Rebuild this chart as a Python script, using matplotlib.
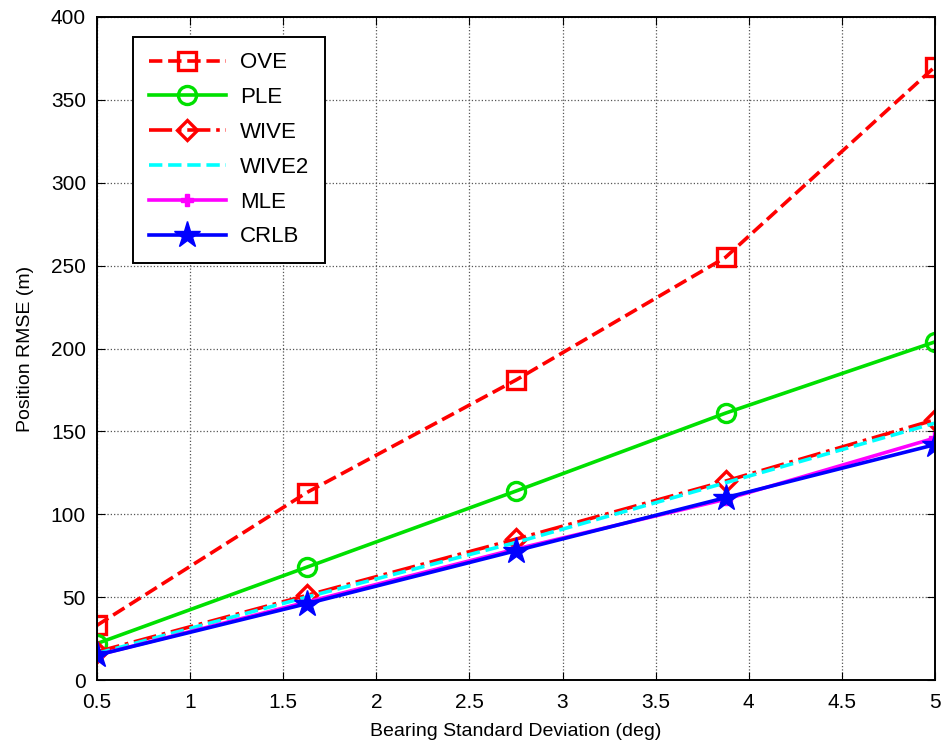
import numpy as np
import matplotlib.pyplot as plt

plt.rcParams['font.family'] = ['Liberation Sans', 'DejaVu Sans']

# bearing noise levels (deg)
sigma = [0.5, 1.625, 2.75, 3.875, 5.0]

ove = [33, 113, 181, 255, 370]
ple = [22, 68, 114, 161, 204]
wive = [17, 51, 85, 120, 157]
wive2 = [16, 50, 83, 119, 155]
mle = [15, 47, 79, 109, 146]
crlb = [15, 46, 78, 110, 142]

fig = plt.figure(figsize=(9.43, 7.53), dpi=100)
ax = fig.add_axes([97/943, 1 - 680/753, (935 - 97)/943, (680 - 17)/753])

lw = 2.6
ax.plot(sigma, ove, 'r--s', lw=lw, ms=13, mfc='none', mew=2.4, label='OVE')
ax.plot(sigma, ple, '-o', color='#00e000', lw=lw, ms=13, mfc='none', mew=2.4, label='PLE')
ax.plot(sigma, wive, 'r-.D', lw=lw, ms=10, mfc='none', mew=2.4, label='WIVE')
ax.plot(sigma, wive2, '--', color='cyan', lw=lw, label='WIVE2')
ax.plot(sigma, mle, '-P', color='magenta', lw=lw, ms=9, label='MLE')
ax.plot(sigma, crlb, 'b-*', lw=lw, ms=20, label='CRLB')

ax.set_xlim(0.5, 5)
ax.set_ylim(0, 400)
ax.set_xticks(np.arange(0.5, 5.01, 0.5))
ax.set_xticklabels(['0.5', '1', '1.5', '2', '2.5', '3', '3.5', '4', '4.5', '5'])
ax.set_yticks(np.arange(0, 401, 50))
ax.tick_params(direction='in', labelsize=15, length=6, top=True, right=True)
ax.tick_params(axis='x', pad=9)
ax.tick_params(axis='y', pad=8)
ax.grid(True, color='#555555', linestyle=':', lw=0.9)
for s in ax.spines.values():
    s.set_linewidth(1.4)

ax.set_xlabel('Bearing Standard Deviation (deg)', fontsize=14, labelpad=8)
ax.set_ylabel('Position RMSE (m)', fontsize=14, labelpad=12)

leg = ax.legend(loc='upper left', bbox_to_anchor=(0.043, 0.970), borderaxespad=0,
                fontsize=16, fancybox=False, edgecolor='k', framealpha=1,
                handlelength=3.5, borderpad=0.7, labelspacing=0.62, handletextpad=0.6)
leg.get_frame().set_linewidth(1.4)

fig.savefig('out.png', dpi=100)
